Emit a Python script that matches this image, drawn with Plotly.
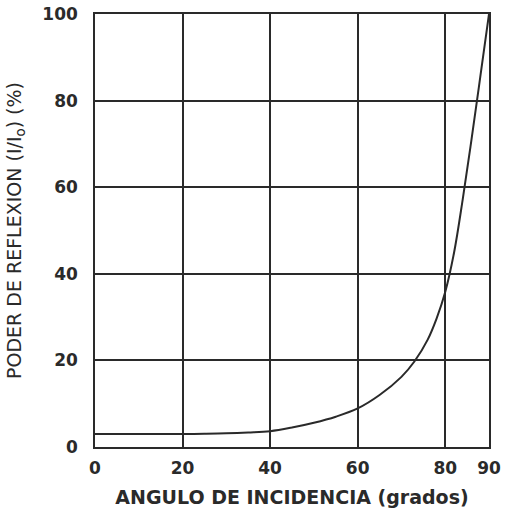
import plotly.graph_objects as go

# Data
angulo = [0, 5, 10, 15, 20, 25, 30, 35, 40, 45, 50, 55, 60, 65, 70, 73, 76, 78, 80, 82, 84, 86, 88, 90]
reflexion = [3.0, 3.0, 3.0, 3.0, 3.0, 3.05, 3.15, 3.35, 3.65, 4.5, 5.6, 7.0, 8.9, 12.0, 16.2, 19.8, 24.8, 29.6, 35.8, 44.8, 57.2, 71.0, 85.4, 100.0]

x_ticks = [0, 20, 40, 60, 80, 90]
y_ticks = [0, 20, 40, 60, 80, 100]

ink = "#2a2a2a"

fig = go.Figure()
fig.add_trace(go.Scatter(
    x=angulo, y=reflexion, mode="lines",
    line=dict(color=ink, width=2, shape="spline", smoothing=1.0),
    showlegend=False, hoverinfo="skip",
))

fig.update_layout(
    width=506, height=518,
    margin=dict(l=95, r=17, t=14, b=71),
    paper_bgcolor="white", plot_bgcolor="white",
    font=dict(family="DejaVu Sans", color=ink),
)
fig.update_xaxes(
    range=[0, 90], tickvals=x_ticks, ticktext=[str(v) for v in x_ticks],
    showgrid=True, gridcolor=ink, gridwidth=1.5,
    showline=True, linecolor=ink, linewidth=1.5, mirror=True,
    zeroline=False, ticks="", ticklabelstandoff=5,
    tickfont=dict(family="DejaVu Sans", size=17, color=ink, weight="bold"),
    title=dict(text="ANGULO DE INCIDENCIA (grados)", standoff=14,
               font=dict(family="DejaVu Sans", size=19, color=ink, weight="bold")),
    automargin=False,
)
fig.update_yaxes(
    range=[0, 100], tickvals=y_ticks, ticktext=[str(v) for v in y_ticks],
    showgrid=True, gridcolor=ink, gridwidth=1.5,
    showline=True, linecolor=ink, linewidth=1.5, mirror=True,
    zeroline=False, ticks="", ticklabelstandoff=12,
    tickfont=dict(family="DejaVu Sans", size=17, color=ink, weight="bold"),
    title=dict(text="PODER DE REFLEXION (I/I<sub>o</sub>) (%)", standoff=16,
               font=dict(family="DejaVu Sans", size=19, color=ink)),
    automargin=False,
)

fig.write_html("out.html")
